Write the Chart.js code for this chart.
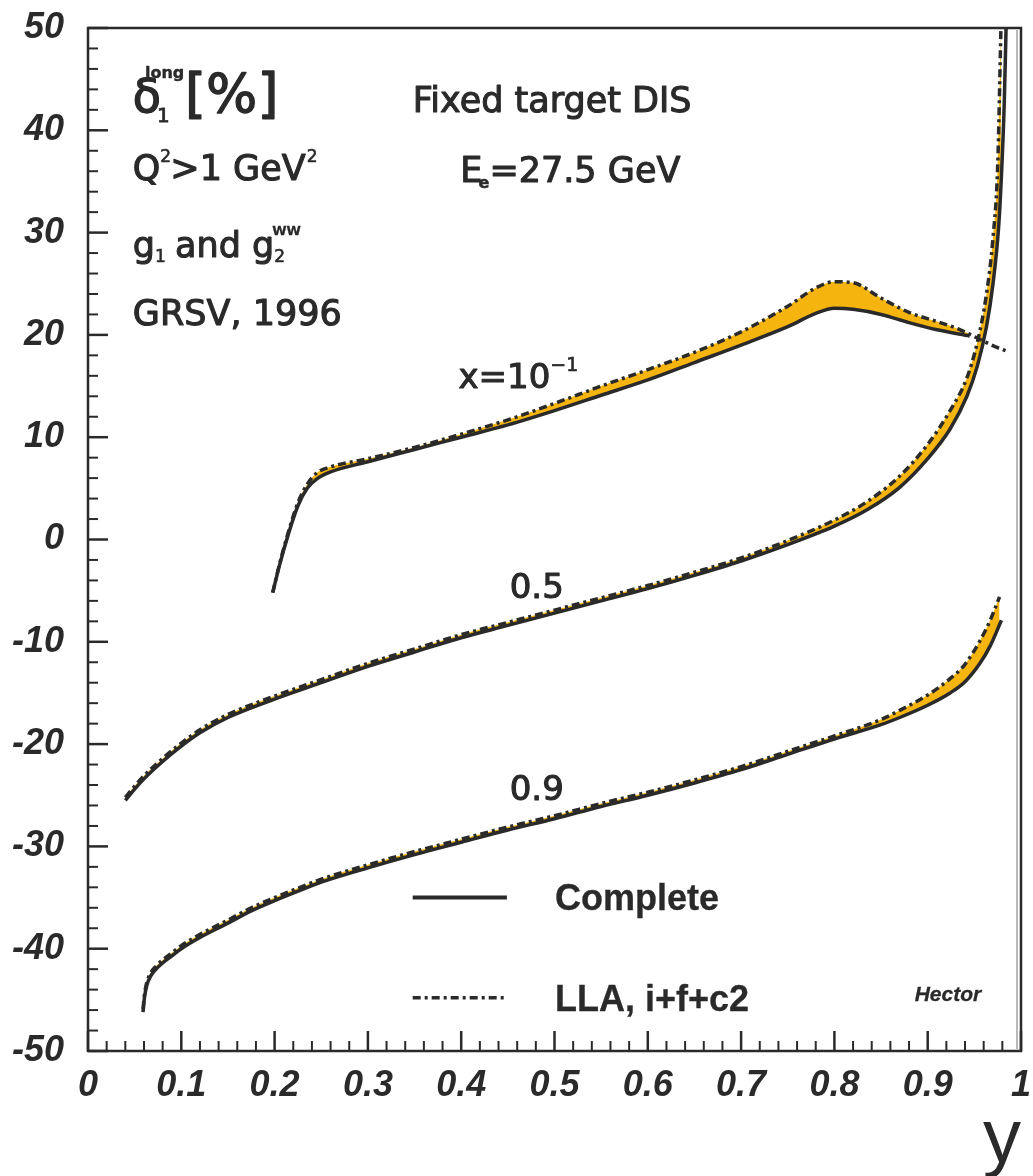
<!DOCTYPE html>
<html>
<head>
<meta charset="utf-8">
<script src="https://cdn.jsdelivr.net/npm/chart.js@4.4.1/dist/chart.umd.min.js"></script>
<style>
  html, body { margin: 0; padding: 0; background: #ffffff; }
  #wrap { width: 1033px; height: 1176px; position: relative; }
</style>
</head>
<body>
<div id="wrap"><canvas id="chart" width="1033" height="1176"></canvas></div>
<script>
// delta_1^long [%] versus y, for x = 0.1, 0.5 and 0.9 (GRSV 1996, E = 27.5 GeV)
// "Complete" calculation (solid) and "LLA, i+f+c2" approximation (dash-dot)

const yComplete01 = [0.198,0.205,0.215,0.225,0.235,0.245,0.26,0.30,0.35,0.40,0.45,0.50,0.55,0.60,0.65,0.70,0.75,0.78,0.80,0.82,0.85,0.88,0.91,0.945];
const complete01  = [-5.2,-2.6,0.6,3.3,5.0,5.9,6.6,7.6,8.8,10.0,11.2,12.6,14.1,15.6,17.3,19.0,20.8,22.1,22.6,22.5,22.0,21.2,20.5,19.9];
const yLLA01      = [0.198,0.205,0.215,0.225,0.235,0.245,0.26,0.30,0.35,0.40,0.45,0.50,0.55,0.60,0.65,0.70,0.75,0.78,0.80,0.82,0.85,0.88,0.91,0.935,0.953,0.971,0.985];
const lla01       = [-5.2,-2.5,0.8,3.6,5.4,6.5,7.1,7.9,9.0,10.3,11.7,13.3,15.0,16.6,18.3,20.3,22.8,24.6,25.2,25.1,23.6,22.2,21.3,20.5,19.7,18.9,18.4];

const yComplete05 = [0.04,0.05,0.06,0.08,0.10,0.12,0.15,0.20,0.25,0.30,0.35,0.40,0.45,0.50,0.55,0.60,0.65,0.70,0.75,0.80,0.835,0.87,0.90,0.924,0.942,0.953,0.963,0.97,0.976,0.979,0.982,0.984];
const complete05  = [-25.5,-24.4,-23.4,-21.7,-20.2,-18.9,-17.4,-15.6,-14.0,-12.4,-11.0,-9.6,-8.4,-7.2,-6.0,-4.8,-3.5,-2.1,-0.5,1.3,2.9,5.1,7.9,10.8,14.0,16.9,20.8,25.0,30.5,35.5,42.5,50.0];
const yLLA05      = [0.04,0.05,0.06,0.08,0.10,0.12,0.15,0.20,0.25,0.30,0.35,0.40,0.45,0.50,0.55,0.60,0.65,0.70,0.75,0.80,0.835,0.87,0.90,0.924,0.942,0.953,0.963,0.97,0.975,0.9785];
const lla05       = [-25.2,-24.1,-23.1,-21.4,-19.9,-18.6,-17.1,-15.3,-13.7,-12.1,-10.7,-9.3,-8.1,-6.9,-5.7,-4.5,-3.2,-1.8,-0.1,1.9,3.7,6.2,9.3,12.6,15.8,19.2,24.0,29.5,36.5,50.0];

const yComplete09 = [0.059,0.0605,0.063,0.067,0.073,0.08,0.09,0.10,0.12,0.15,0.175,0.20,0.23,0.25,0.30,0.35,0.40,0.45,0.50,0.55,0.60,0.65,0.70,0.75,0.80,0.85,0.87,0.90,0.924,0.94,0.956,0.967,0.979];
const complete09  = [-46.2,-44.8,-43.6,-42.7,-42.0,-41.4,-40.7,-40.0,-38.9,-37.5,-36.3,-35.3,-34.2,-33.5,-32.1,-30.8,-29.6,-28.4,-27.3,-26.1,-25.0,-23.8,-22.5,-21.0,-19.5,-18.1,-17.4,-16.2,-15.0,-13.9,-12.1,-10.4,-7.9];
const yLLA09      = [0.059,0.0605,0.063,0.067,0.073,0.08,0.09,0.10,0.12,0.15,0.175,0.20,0.23,0.25,0.30,0.35,0.40,0.45,0.50,0.55,0.60,0.65,0.70,0.75,0.80,0.85,0.87,0.90,0.924,0.94,0.956,0.967,0.977];
const lla09       = [-45.9,-44.5,-43.3,-42.4,-41.7,-41.1,-40.4,-39.7,-38.6,-37.2,-36.0,-35.0,-33.9,-33.2,-31.8,-30.5,-29.3,-28.1,-27.0,-25.8,-24.7,-23.5,-22.2,-20.7,-19.2,-17.6,-16.7,-15.2,-13.6,-12.2,-9.9,-7.9,-5.6];

// axis ticks
const xTicks = [0,0.1,0.2,0.3,0.4,0.5,0.6,0.7,0.8,0.9,1];
const xTickLabels = ['0','0.1','0.2','0.3','0.4','0.5','0.6','0.7','0.8','0.9','1'];
const yTicks = [-50,-40,-30,-20,-10,0,10,20,30,40,50];
const yTickLabels = ['-50','-40','-30','-20','-10','0','10','20','30','40','50'];

const INK = '#2a2a2a';
const BAND = '#f6b40e';
const DASHDOT = [8, 4, 3, 4];

const pts = (xs, vs) => xs.map((v, i) => ({ x: v, y: vs[i] }));

function completeSet(xs, vs) {
  return {
    data: pts(xs, vs), borderColor: INK, borderWidth: 3.5,
    pointRadius: 0, fill: false, cubicInterpolationMode: 'monotone'
  };
}
function llaSet(xs, vs) {
  return {
    data: pts(xs, vs), borderColor: INK, borderWidth: 3.5, borderDash: DASHDOT,
    pointRadius: 0, cubicInterpolationMode: 'monotone',
    backgroundColor: BAND, fill: { target: '-1', above: BAND, below: BAND }
  };
}

const tickFont = { family: 'Liberation Sans', size: 36, style: 'italic', weight: 'bold' };

// frame, inward minor/major ticks, and in-plot text
const decor = {
  id: 'decor',
  afterDraw(chart) {
    const { ctx, chartArea: a, scales: { x, y } } = chart;
    const X = v => x.getPixelForValue(v);
    const Y = v => y.getPixelForValue(v);
    ctx.save();
    ctx.strokeStyle = INK;
    ctx.fillStyle = INK;

    // inward ticks on left and bottom axes
    ctx.lineCap = 'butt';
    for (let k = -25; k <= 25; k++) {
      const v = k * 2;
      const major = v % 10 === 0;
      ctx.lineWidth = major ? 2.5 : 2;
      ctx.beginPath();
      ctx.moveTo(a.left, Y(v));
      ctx.lineTo(a.left + (major ? 20 : 10), Y(v));
      ctx.stroke();
    }
    for (let k = 0; k <= 50; k++) {
      const v = k / 50;
      const major = k % 5 === 0;
      ctx.lineWidth = major ? 2.5 : 2;
      ctx.beginPath();
      ctx.moveTo(X(v), a.bottom);
      ctx.lineTo(X(v), a.bottom - (major ? 20 : 10));
      ctx.stroke();
    }

    // frame
    ctx.lineWidth = 2.5;
    ctx.strokeRect(a.left, a.top, a.right - a.left, a.bottom - a.top);
    ctx.lineWidth = 1.2;
    ctx.strokeStyle = '#8a8a8a';
    ctx.beginPath();
    ctx.moveTo(a.right - 4, a.top + 2);
    ctx.lineTo(a.right - 4, a.bottom - 2);
    ctx.stroke();
    ctx.strokeStyle = INK;

    const F = 'DejaVu Sans';
    ctx.textAlign = 'left';
    ctx.textBaseline = 'alphabetic';
    ctx.lineJoin = 'round';
    // heavier strokes for the annotation lettering
    const put = (s, px, py, font, weight = 1.1) => {
      ctx.font = font;
      ctx.fillText(s, px, py);
      ctx.lineWidth = weight;
      ctx.strokeText(s, px, py);
      return ctx.measureText(s).width;
    };

    // delta_1^long [%]
    let px = X(0.048), py = Y(41.8);
    const dw = put('δ', px, py, `46px ${F}`, 1.4);
    put('long', px + dw - 16, py - 34, `bold 16px ${F}`, 0.4);
    put('1', px + dw - 4, py + 10, `20px ${F}`, 0.8);
    put('[%]', X(0.104), py, `54px ${F}`, 1.4);

    put('Fixed target DIS', X(0.348), py, `35px ${F}`);

    // Q^2 > 1 GeV^2
    px = X(0.048); py = Y(35.1);
    let w = put('Q', px, py, `35px ${F}`);
    put('2', px + w, py - 18, `17px ${F}`, 0.6);
    w += 10 + put('>1 GeV', px + w + 10, py, `35px ${F}`);
    put('2', px + w + 1, py - 18, `17px ${F}`, 0.6);

    // E_e = 27.5 GeV
    px = X(0.399); py = Y(34.9);
    w = put('E', px, py, `35px ${F}`);
    put('e', px + w - 4, py + 6, `bold 16px ${F}`, 0.5);
    put('=27.5 GeV', px + w + 7, py, `35px ${F}`);

    // g_1 and g_2^WW
    px = X(0.048); py = Y(27.6);
    w = put('g', px, py, `35px ${F}`);
    put('1', px + w, py + 5, `17px ${F}`, 0.6);
    w += 20 + put('and g', px + w + 20, py, `35px ${F}`);
    put('2', px + w, py + 5, `17px ${F}`, 0.6);
    put('WW', px + w - 2, py - 22, `bold 13px ${F}`, 0.3);

    put('GRSV, 1996', X(0.048), Y(21.0), `35px ${F}`);

    // curve labels
    px = X(0.397); py = Y(14.8);
    w = put('x=10', px, py, `34px ${F}`);
    put('−1', px + w, py - 17, `19px ${F}`, 0.6);
    put('0.5', X(0.452), Y(-5.7), `34px ${F}`);
    put('0.9', X(0.452), Y(-25.5), `34px ${F}`);

    // legend
    ctx.lineWidth = 4;
    ctx.setLineDash([]);
    ctx.beginPath();
    ctx.moveTo(X(0.348), Y(-35.0));
    ctx.lineTo(X(0.449), Y(-35.0));
    ctx.stroke();
    ctx.lineWidth = 3.5;
    ctx.setLineDash(DASHDOT);
    ctx.beginPath();
    ctx.moveTo(X(0.348), Y(-44.8));
    ctx.lineTo(X(0.447), Y(-44.8));
    ctx.stroke();
    ctx.setLineDash([]);
    put('Complete', X(0.5005), Y(-36.2), `bold 36px Liberation Sans`, 0.3);
    put('LLA, i+f+c2', X(0.5005), Y(-46.1), `bold 36px Liberation Sans`, 0.3);
    put('Hector', X(0.886), Y(-45.1), `italic bold 21px Liberation Sans`, 0.3);

    ctx.restore();
  }
};

new Chart(document.getElementById('chart'), {
  type: 'line',
  data: {
    datasets: [
      completeSet(yComplete01, complete01),
      llaSet(yLLA01, lla01),
      completeSet(yComplete05, complete05),
      llaSet(yLLA05, lla05),
      completeSet(yComplete09, complete09),
      llaSet(yLLA09, lla09)
    ]
  },
  options: {
    responsive: false,
    animation: false,
    devicePixelRatio: 1,
    layout: { padding: { top: 28, right: 12, left: 0, bottom: 0 } },
    plugins: { legend: { display: false }, tooltip: { enabled: false } },
    scales: {
      x: {
        type: 'linear', min: 0, max: 1,
        afterBuildTicks: s => { s.ticks = xTicks.map(v => ({ value: v })); },
        afterFit: s => { s.height = 125; s.paddingLeft = 0; s.paddingRight = 0; },
        ticks: {
          callback: (v, i) => xTickLabels[i],
          font: tickFont, color: INK, padding: 13,
          autoSkip: false, maxRotation: 0
        },
        grid: { display: false, drawTicks: false },
        border: { display: false },
        title: {
          display: true, text: 'y', align: 'end', color: INK,
          font: { family: 'Liberation Sans', size: 76 },
          padding: { top: 0, bottom: -11 }
        }
      },
      y: {
        type: 'linear', min: -50, max: 50,
        afterBuildTicks: s => { s.ticks = yTicks.map(v => ({ value: v })); },
        afterFit: s => { s.width = 88; s.paddingTop = 0; s.paddingBottom = 0; },
        ticks: {
          callback: (v, i) => yTickLabels[i],
          font: tickFont, color: INK, padding: 24, autoSkip: false
        },
        grid: { display: false, drawTicks: false },
        border: { display: false }
      }
    }
  },
  plugins: [decor]
});
</script>
</body>
</html>
